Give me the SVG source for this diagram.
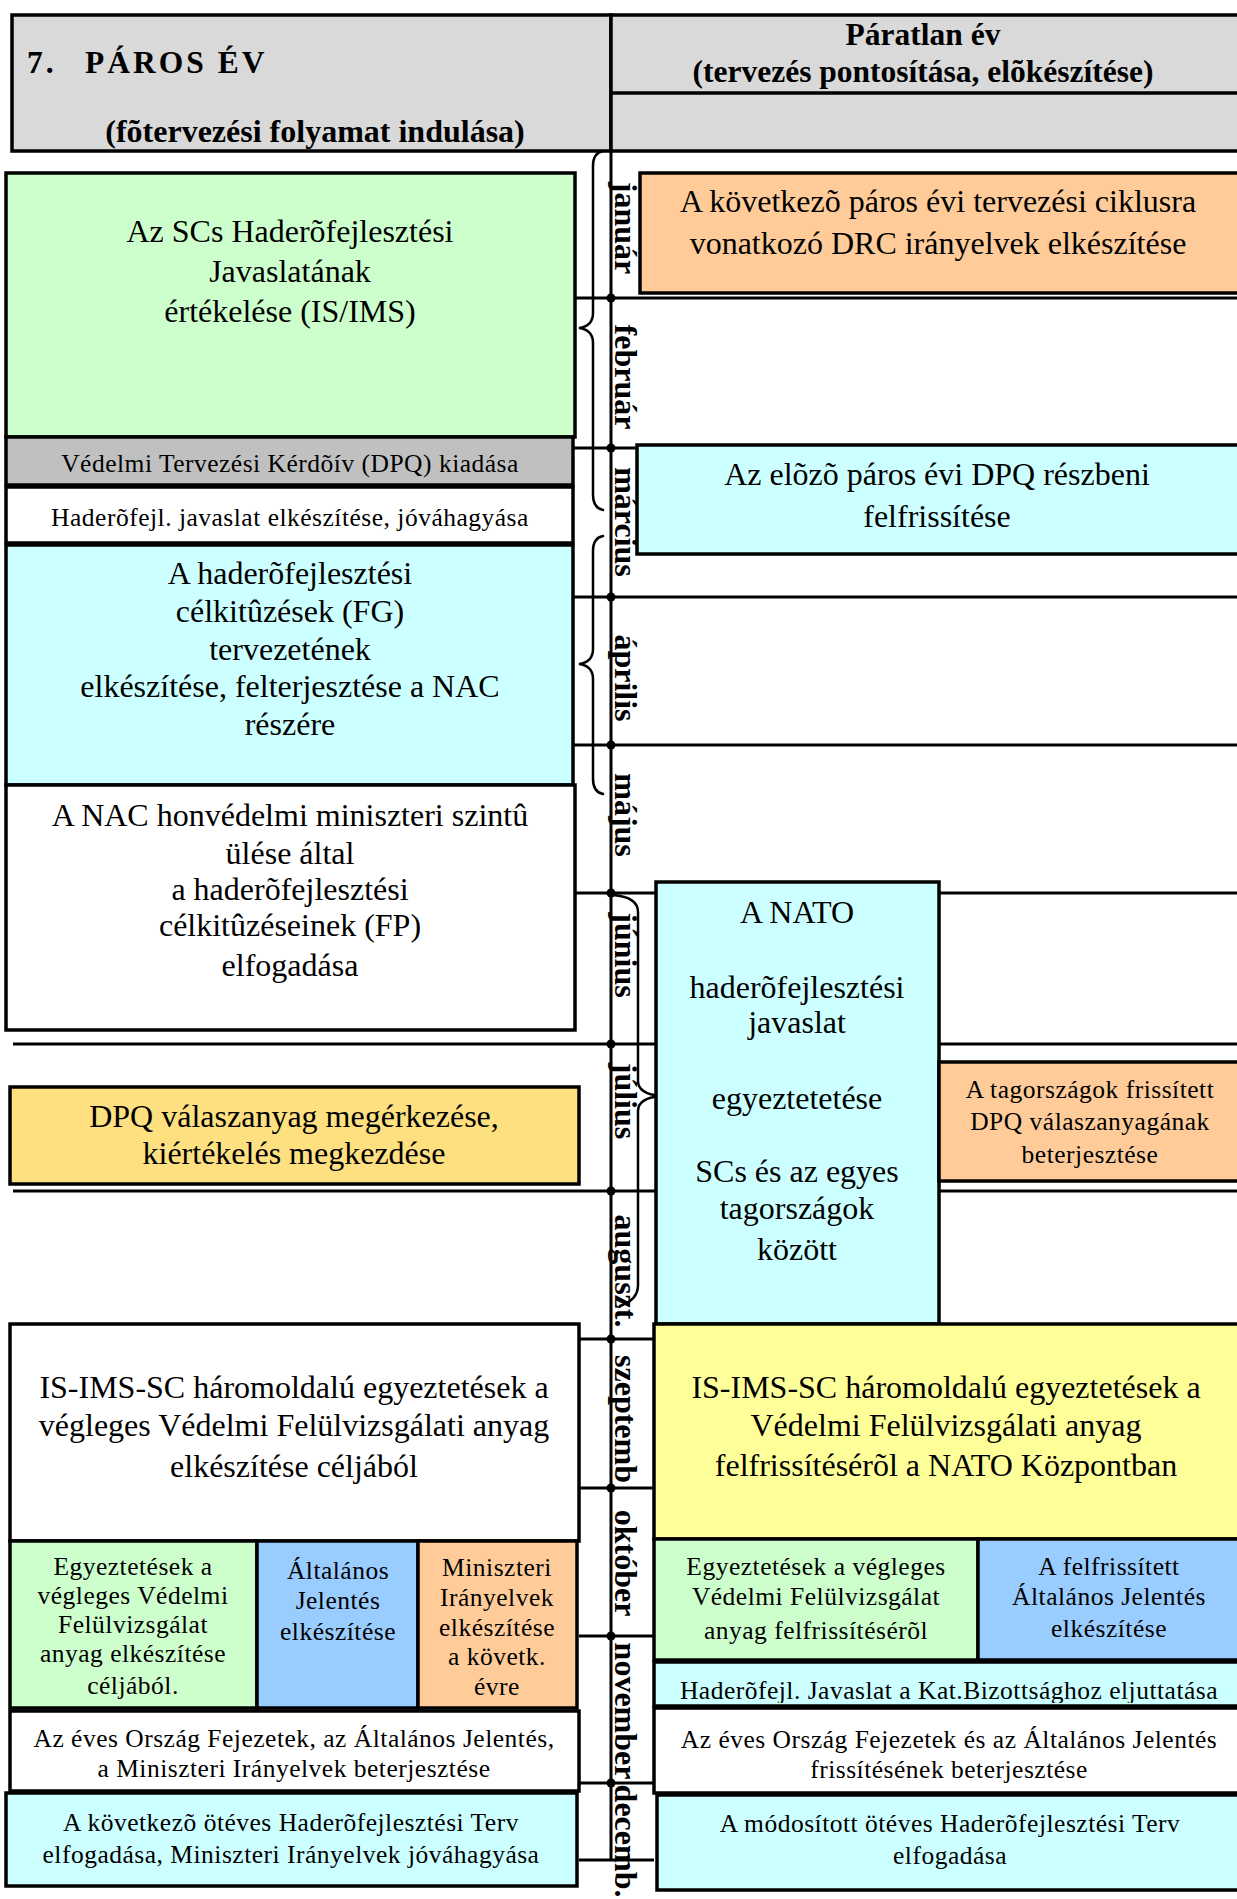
<svg xmlns="http://www.w3.org/2000/svg" width="1237" height="1899" viewBox="0 0 1237 1899">
<style>
  text { font-family: "Liberation Serif", "Times New Roman", serif; fill: #000; }
  .big { font-size: 32px; text-anchor: middle; }
  .sm { font-size: 25.5px; letter-spacing: 0.5px; text-anchor: middle; }
  .hd { font-size: 31.5px; font-weight: bold; }
  .mon { font-size: 32px; font-weight: bold; text-anchor: middle; }
  .box { stroke: #000; stroke-width: 3.5; }
  .ln { stroke: #000; stroke-width: 3; fill: none; }
  .br { stroke: #000; stroke-width: 2.5; fill: none; stroke-linecap: round; }
  .gray { fill: #D9D9D9; }
  .dgray { fill: #C0C0C0; }
  .white { fill: #FFFFFF; }
  .green { fill: #CCFFCC; }
  .cyan { fill: #CCFFFF; }
  .orange { fill: #FFCC99; }
  .blue { fill: #99CCFF; }
  .gold { fill: #FFE080; }
  .yellow { fill: #FFFF99; }
</style>
<defs>
  <clipPath id="clipR8"><rect x="654" y="1662" width="600" height="41"/></clipPath>
</defs>
<rect x="0" y="0" width="1237" height="1899" fill="#FFFFFF"/>

<!-- column headers -->
<g id="header-even">
  <rect class="box gray" x="12" y="15" width="599" height="136"/>
  <text class="hd" x="27" y="73" style="letter-spacing:3px">7.</text>
  <text class="hd" x="85" y="73" style="letter-spacing:3px">PÁROS ÉV</text>
  <text class="hd" x="315" y="142" text-anchor="middle" style="font-size:32px">(fõtervezési folyamat indulása)</text>
</g>
<g id="header-odd">
  <rect class="box gray" x="611" y="15" width="640" height="136"/>
  <line class="ln" x1="611" y1="93" x2="1240" y2="93" style="stroke-width:3.5"/>
  <text class="hd" x="923" y="45" text-anchor="middle">Páratlan év</text>
  <text class="hd" x="923" y="82" text-anchor="middle">(tervezés pontosítása, elõkészítése)</text>
</g>

<!-- timeline, month separators, dots and braces -->
<g id="connectors">
  <line class="ln" x1="611" y1="151" x2="611" y2="1860"/>
  <line class="ln" x1="575" y1="298" x2="1240" y2="298"/>
  <line class="ln" x1="573" y1="448" x2="637" y2="448"/>
  <line class="ln" x1="573" y1="597" x2="1240" y2="597"/>
  <line class="ln" x1="573" y1="745" x2="1240" y2="745"/>
  <line class="ln" x1="575" y1="893" x2="656" y2="893"/>
  <line class="ln" x1="939" y1="893" x2="1240" y2="893"/>
  <line class="ln" x1="13" y1="1044" x2="656" y2="1044"/>
  <line class="ln" x1="939" y1="1044" x2="1240" y2="1044"/>
  <line class="ln" x1="13" y1="1191" x2="656" y2="1191"/>
  <line class="ln" x1="939" y1="1191" x2="1240" y2="1191"/>
  <line class="ln" x1="579" y1="1339" x2="654" y2="1339"/>
  <line class="ln" x1="579" y1="1488" x2="654" y2="1488"/>
  <line class="ln" x1="579" y1="1636" x2="654" y2="1636"/>
  <line class="ln" x1="579" y1="1783" x2="654" y2="1783"/>
  <line class="ln" x1="579" y1="1860" x2="654" y2="1860"/>
  <g fill="#000">
    <circle cx="611" cy="298" r="4.5"/>
    <circle cx="611" cy="448" r="4.5"/>
    <circle cx="611" cy="597" r="4.5"/>
    <circle cx="611" cy="745" r="4.5"/>
    <circle cx="611" cy="893" r="4.5"/>
    <circle cx="611" cy="1044" r="4.5"/>
    <circle cx="611" cy="1191" r="4.5"/>
    <circle cx="611" cy="1339" r="4.5"/>
    <circle cx="611" cy="1488" r="4.5"/>
    <circle cx="611" cy="1636" r="4.5"/>
    <circle cx="611" cy="1783" r="4.5"/>
  </g>
  <path class="br" d="M 603 151 Q 593 153 593 166 L 593 313 Q 593 326 579 328 Q 593 330 593 343 L 593 495 Q 593 508 603 510"/>
  <path class="br" d="M 603 536 Q 593 538 593 551 L 593 649 Q 593 662 579 664 Q 593 666 593 679 L 593 779 Q 593 792 603 794"/>
  <path class="br" d="M 613 895 Q 638 897 638 912 L 638 1081 Q 638 1094 661 1096 Q 638 1098 638 1111 L 638 1285 Q 638 1300 620 1306"/>
</g>

<!-- month labels along the timeline -->
<g id="months">
  <text class="mon" transform="translate(615,228) rotate(90)">január</text>
  <text class="mon" transform="translate(615,377) rotate(90)">február</text>
  <text class="mon" transform="translate(615,522) rotate(90)">március</text>
  <text class="mon" transform="translate(615,678) rotate(90)">április</text>
  <text class="mon" transform="translate(615,815) rotate(90)">május</text>
  <text class="mon" transform="translate(615,955) rotate(90)">június</text>
  <text class="mon" transform="translate(615,1101) rotate(90)">július</text>
  <text class="mon" transform="translate(615,1271) rotate(90)">auguszt.</text>
  <text class="mon" transform="translate(615,1419) rotate(90)">szeptemb</text>
  <text class="mon" transform="translate(615,1563) rotate(90)">október</text>
  <text class="mon" transform="translate(615,1711) rotate(90)">november</text>
  <text class="mon" transform="translate(615,1841) rotate(90)">decemb.</text>
</g>

<!-- even year column -->
<g id="sc-proposal-evaluation">
  <rect class="box green" x="6" y="173" width="569" height="264"/>
  <text class="big"><tspan x="290" y="242">Az SCs Haderõfejlesztési</tspan><tspan x="290" y="282">Javaslatának</tspan><tspan x="290" y="322">értékelése (IS/IMS)</tspan></text>
</g>
<g id="dpq-issue">
  <rect class="box dgray" x="6" y="437" width="567" height="48"/>
  <text class="sm" x="290" y="472">Védelmi Tervezési Kérdõív (DPQ) kiadása</text>
</g>
<g id="proposal-approval">
  <rect class="box white" x="6" y="487" width="567" height="56"/>
  <text class="sm" x="290" y="526">Haderõfejl. javaslat elkészítése, jóváhagyása</text>
</g>
<g id="fg-draft">
  <rect class="box cyan" x="6" y="545" width="567" height="240"/>
  <text class="big"><tspan x="290" y="584">A haderõfejlesztési</tspan><tspan x="290" y="622">célkitûzések (FG)</tspan><tspan x="290" y="660">tervezetének</tspan><tspan x="290" y="697">elkészítése, felterjesztése a NAC</tspan><tspan x="290" y="735">részére</tspan></text>
</g>
<g id="nac-adoption">
  <rect class="box white" x="6" y="785" width="569" height="245"/>
  <text class="big"><tspan x="290" y="826">A NAC honvédelmi miniszteri szintû</tspan><tspan x="290" y="864">ülése által</tspan><tspan x="290" y="900">a haderõfejlesztési</tspan><tspan x="290" y="936">célkitûzéseinek (FP)</tspan><tspan x="290" y="976">elfogadása</tspan></text>
</g>
<g id="dpq-reply">
  <rect class="box gold" x="10" y="1087" width="569" height="97"/>
  <text class="big"><tspan x="294" y="1127">DPQ válaszanyag megérkezése,</tspan><tspan x="294" y="1164">kiértékelés megkezdése</tspan></text>
</g>
<g id="trilateral-final">
  <rect class="box white" x="10" y="1324" width="569" height="217"/>
  <text class="big"><tspan x="294" y="1398">IS-IMS-SC háromoldalú egyeztetések a</tspan><tspan x="294" y="1436">végleges Védelmi Felülvizsgálati anyag</tspan><tspan x="294" y="1477">elkészítése céljából</tspan></text>
</g>
<g id="review-final">
  <rect class="box green" x="10" y="1541" width="247" height="167"/>
  <text class="sm"><tspan x="133" y="1575">Egyeztetések a</tspan><tspan x="133" y="1604">végleges Védelmi</tspan><tspan x="133" y="1633">Felülvizsgálat</tspan><tspan x="133" y="1662">anyag elkészítése</tspan><tspan x="133" y="1694">céljából.</tspan></text>
</g>
<g id="general-report">
  <rect class="box blue" x="257" y="1541" width="161" height="167"/>
  <text class="sm"><tspan x="338" y="1579">Általános</tspan><tspan x="338" y="1609">Jelentés</tspan><tspan x="338" y="1640">elkészítése</tspan></text>
</g>
<g id="ministerial-guidance">
  <rect class="box orange" x="418" y="1541" width="159" height="167"/>
  <text class="sm"><tspan x="497" y="1576">Miniszteri</tspan><tspan x="497" y="1606">Irányelvek</tspan><tspan x="497" y="1636">elkészítése</tspan><tspan x="497" y="1665">a követk.</tspan><tspan x="497" y="1695">évre</tspan></text>
</g>
<g id="country-chapters">
  <rect class="box white" x="10" y="1711" width="569" height="80"/>
  <text class="sm"><tspan x="294" y="1747">Az éves Ország Fejezetek, az Általános Jelentés,</tspan><tspan x="294" y="1777">a Miniszteri Irányelvek beterjesztése</tspan></text>
</g>
<g id="five-year-plan">
  <rect class="box cyan" x="6" y="1793" width="571" height="93"/>
  <text class="sm"><tspan x="291" y="1831">A következõ ötéves Haderõfejlesztési Terv</tspan><tspan x="291" y="1863">elfogadása, Miniszteri Irányelvek jóváhagyása</tspan></text>
</g>

<!-- odd year column -->
<g id="drc-guidance">
  <rect class="box orange" x="640" y="173" width="610" height="120"/>
  <text class="big"><tspan x="938" y="212">A következõ páros évi tervezési ciklusra</tspan><tspan x="938" y="254">vonatkozó DRC irányelvek elkészítése</tspan></text>
</g>
<g id="dpq-update">
  <rect class="box cyan" x="637" y="445" width="613" height="109"/>
  <text class="big"><tspan x="937" y="485">Az elõzõ páros évi DPQ részbeni</tspan><tspan x="937" y="527">felfrissítése</tspan></text>
</g>
<g id="nato-coordination">
  <rect class="box cyan" x="656" y="882" width="283" height="442"/>
  <text class="big"><tspan x="797" y="923">A NATO</tspan><tspan x="797" y="998">haderõfejlesztési</tspan><tspan x="797" y="1033">javaslat</tspan><tspan x="797" y="1109">egyeztetetése</tspan><tspan x="797" y="1182">SCs és az egyes</tspan><tspan x="797" y="1219">tagországok</tspan><tspan x="797" y="1260">között</tspan></text>
</g>
<g id="dpq-updated-reply">
  <rect class="box orange" x="939" y="1062" width="311" height="119"/>
  <text class="sm"><tspan x="1090" y="1098">A tagországok frissített</tspan><tspan x="1090" y="1130">DPQ válaszanyagának</tspan><tspan x="1090" y="1163">beterjesztése</tspan></text>
</g>
<g id="trilateral-update">
  <rect class="box yellow" x="654" y="1324" width="596" height="215"/>
  <text class="big"><tspan x="946" y="1398">IS-IMS-SC háromoldalú egyeztetések a</tspan><tspan x="946" y="1436">Védelmi Felülvizsgálati anyag</tspan><tspan x="946" y="1476">felfrissítésérõl a NATO Központban</tspan></text>
</g>
<g id="review-update">
  <rect class="box green" x="654" y="1539" width="324" height="121"/>
  <text class="sm"><tspan x="816" y="1575">Egyeztetések a végleges</tspan><tspan x="816" y="1605">Védelmi Felülvizsgálat</tspan><tspan x="816" y="1639">anyag felfrissítésérõl</tspan></text>
</g>
<g id="general-report-update">
  <rect class="box blue" x="978" y="1539" width="272" height="121"/>
  <text class="sm"><tspan x="1109" y="1575">A felfrissített</tspan><tspan x="1109" y="1605">Általános Jelentés</tspan><tspan x="1109" y="1637">elkészítése</tspan></text>
</g>
<g id="mc-submission">
  <rect class="box cyan" x="654" y="1662" width="596" height="44"/>
  <text class="sm" x="949" y="1699" clip-path="url(#clipR8)">Haderõfejl. Javaslat a Kat.Bizottsághoz eljuttatása</text>
</g>
<g id="chapters-update">
  <rect class="box white" x="654" y="1708" width="596" height="85"/>
  <text class="sm"><tspan x="949" y="1748">Az éves Ország Fejezetek és az Általános Jelentés</tspan><tspan x="949" y="1778">frissítésének beterjesztése</tspan></text>
</g>
<g id="plan-amended">
  <rect class="box cyan" x="657" y="1795" width="593" height="95"/>
  <text class="sm"><tspan x="950" y="1832">A módosított ötéves Haderõfejlesztési Terv</tspan><tspan x="950" y="1864">elfogadása</tspan></text>
</g>
</svg>
